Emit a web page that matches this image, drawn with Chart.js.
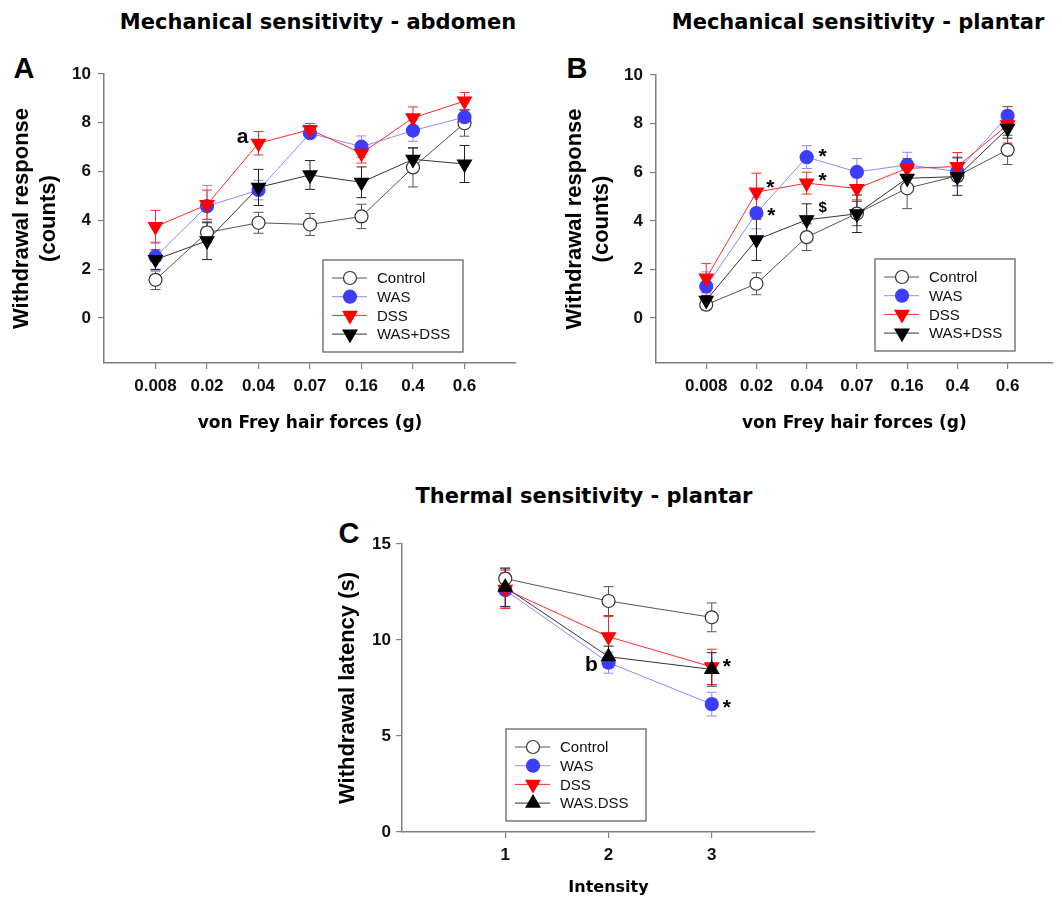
<!DOCTYPE html>
<html>
<head>
<meta charset="utf-8">
<script src="https://cdn.jsdelivr.net/npm/chart.js@4.4.1/dist/chart.umd.min.js"></script>
<style>
  body { margin: 0; background: #fff; width: 1062px; height: 897px; position: relative; overflow: hidden; }
  canvas { position: absolute; }
  .ttl { position: absolute; transform: translate(-50%, -50%); white-space: nowrap;
         font: bold 21px "DejaVu Sans", sans-serif; color: #000; }
  .let { position: absolute; transform: translate(-50%, -50%);
         font: bold 29px "Liberation Sans", Arial, sans-serif; color: #000; }
</style>
</head>
<body>
<div class="ttl" style="left:318px;top:22px">Mechanical sensitivity - abdomen</div>
<div class="ttl" style="left:858px;top:22px">Mechanical sensitivity - plantar</div>
<div class="ttl" style="left:584px;top:496px">Thermal sensitivity - plantar</div>
<div class="let" style="left:24px;top:68px">A</div>
<div class="let" style="left:577px;top:68px">B</div>
<div class="let" style="left:349px;top:533px">C</div>

<canvas id="chartA" width="530" height="440" style="left:0;top:0"></canvas>
<canvas id="chartB" width="522" height="440" style="left:540px;top:0"></canvas>
<canvas id="chartC" width="540" height="437" style="left:300px;top:460px"></canvas>

<script>
const SANS = '"Liberation Sans", Arial, sans-serif';
const HEAVY = '"DejaVu Sans", sans-serif';

// categories
const forces = ["0.008", "0.02", "0.04", "0.07", "0.16", "0.4", "0.6"];
const intensities = ["1", "2", "3"];
const groupsAB = ["Control", "WAS", "DSS", "WAS+DSS"];
const groupsC = ["Control", "WAS", "DSS", "WAS.DSS"];

// A - abdomen, withdrawal counts (mean, sem)
const abdControl = [1.56, 3.5, 3.9, 3.83, 4.16, 6.17, 7.98];
const abdControlErr = [0.4, 0.4, 0.43, 0.45, 0.5, 0.8, 0.53];
const abdWas = [2.51, 4.58, 5.24, 7.57, 7.02, 7.68, 8.23];
const abdWasErr = [0.6, 0.85, 0.4, 0.2, 0.44, 0.44, 0.3];
const abdDss = [3.74, 4.64, 7.16, 7.72, 6.75, 8.2, 8.89];
const abdDssErr = [0.67, 0.6, 0.48, 0.25, 0.4, 0.45, 0.35];
const abdWasDss = [2.39, 3.16, 5.35, 5.86, 5.56, 6.5, 6.31];
const abdWasDssErr = [0.4, 0.77, 0.74, 0.59, 0.63, 0.47, 0.76];

// B - plantar, withdrawal counts
const plaControl = [0.55, 1.41, 3.33, 4.3, 5.34, 5.85, 6.92];
const plaControlErr = [0.2, 0.45, 0.55, 0.5, 0.84, 0.4, 0.6];
const plaWas = [1.3, 4.32, 6.62, 6.01, 6.3, 6.03, 8.32];
const plaWasErr = [0.6, 0.65, 0.47, 0.55, 0.52, 0.6, 0.38];
const plaDss = [1.64, 5.18, 5.55, 5.33, 6.16, 6.23, 7.95];
const plaDssErr = [0.6, 0.78, 0.45, 0.47, 0.4, 0.58, 0.75];
const plaWasDss = [0.73, 3.22, 4.04, 4.29, 5.75, 5.82, 7.8];
const plaWasDssErr = [0.2, 0.85, 0.66, 0.77, 0.4, 0.77, 0.4];

// C - thermal latency (s)
const thControl = [13.2, 12.03, 11.18];
const thControlErr = [0.5, 0.75, 0.75];
const thWas = [12.6, 8.82, 6.66];
const thWasErr = [0.9, 0.55, 0.62];
const thDss = [12.64, 10.17, 8.6];
const thDssErr = [1.0, 1.05, 0.92];
const thWasDss = [12.75, 9.13, 8.47];
const thWasDssErr = [1.0, 0.55, 0.87];

// significance marks: series index, point index, text
const abdNotes = [{ s: 2, i: 2, text: "a", dx: -16, dy: -6 }];
const plaNotes = [
	{ s: 1, i: 1, text: "*", dx: 15, dy: 3 },
	{ s: 2, i: 1, text: "*", dx: 14, dy: -4 },
	{ s: 1, i: 2, text: "*", dx: 16, dy: 0 },
	{ s: 2, i: 2, text: "*", dx: 16, dy: -2 },
	{ s: 3, i: 2, text: "$", dx: 16, dy: -12, size: 15 },
];
const thNotes = [
	{ s: 1, i: 1, text: "b", dx: -17, dy: 3 },
	{ s: 2, i: 2, text: "*", dx: 15, dy: 0 },
	{ s: 1, i: 2, text: "*", dx: 15, dy: 4 },
];

const looks = [
	{ line: "#555555", fill: "#ffffff", stroke: "#333333", shape: "circle", rot: 0, r: 6.5, err: "#555555" },
	{ line: "#8a8aff", fill: "#3d3dff", stroke: "#3d3dff", shape: "circle", rot: 0, r: 6.5, err: "#8a8aff" },
	{ line: "#ff2a2a", fill: "#ff0000", stroke: "#ff0000", shape: "triangle", rot: 180, r: 8, err: "#ff2a2a" },
	{ line: "#333333", fill: "#000000", stroke: "#000000", shape: "triangle", rot: 180, r: 8, err: "#222222" },
];

// error bars, legend box and marks
const panelExtras = {
	id: "panelExtras",
	beforeDatasetsDraw(chart) {
		const { ctx } = chart;
		const xs = chart.scales.x;
		const ys = chart.scales.y;
		chart.data.datasets.forEach((ds) => {
			ctx.save();
			ctx.strokeStyle = ds.errColor;
			ctx.lineWidth = 1;
			ds.data.forEach((pt, i) => {
				const e = ds.errors[i];
				const x = xs.getPixelForValue(pt.x);
				const top = ys.getPixelForValue(pt.y + e);
				const bot = ys.getPixelForValue(pt.y - e);
				ctx.beginPath();
				ctx.moveTo(x, top);
				ctx.lineTo(x, bot);
				ctx.moveTo(x - 5, top);
				ctx.lineTo(x + 5, top);
				ctx.moveTo(x - 5, bot);
				ctx.lineTo(x + 5, bot);
				ctx.stroke();
			});
			ctx.restore();
		});
	},
	afterDatasetsDraw(chart, args, opts) {
		const { ctx } = chart;
		ctx.save();
		ctx.fillStyle = "#000";
		ctx.textAlign = "center";
		ctx.textBaseline = "middle";
		(opts.notes || []).forEach((n) => {
			const el = chart.getDatasetMeta(n.s).data[n.i];
			ctx.font = `bold ${n.size || 21}px ${SANS}`;
			ctx.fillText(n.text, el.x + n.dx, el.y + n.dy);
		});
		ctx.restore();
	},
	afterDraw(chart, args, opts) {
		const { ctx, chartArea } = chart;
		const left = chartArea.left + opts.boxX;
		const top = chartArea.top + opts.boxY;
		ctx.save();
		ctx.fillStyle = "#fff";
		ctx.fillRect(left, top, 140, 92);
		ctx.strokeStyle = "#666";
		ctx.lineWidth = 1.3;
		ctx.strokeRect(left, top, 140, 92);
		chart.data.datasets.forEach((ds, k) => {
			const y = top + 18 + k * 18.7;
			ctx.strokeStyle = ds.borderColor;
			ctx.lineWidth = 1;
			ctx.beginPath();
			ctx.moveTo(left + 9, y);
			ctx.lineTo(left + 44, y);
			ctx.stroke();
			ctx.fillStyle = ds.pointBackgroundColor;
			ctx.strokeStyle = ds.pointBorderColor;
			ctx.lineWidth = ds.pointBorderWidth;
			Chart.helpers.drawPoint(ctx, {
				pointStyle: ds.pointStyle, rotation: ds.pointRotation,
				radius: ds.pointRadius, borderWidth: ds.pointBorderWidth,
			}, left + 27, y);
			ctx.fillStyle = "#111";
			ctx.font = `15px ${SANS}`;
			ctx.textAlign = "left";
			ctx.textBaseline = "middle";
			ctx.fillText(ds.label, left + 54, y + 1);
		});
		ctx.restore();
	},
};

Chart.register(panelExtras);

function makePanel(id, p) {
	const datasets = p.values.map((vals, s) => {
		const lk = looks[s];
		const rot = (s === 3 && p.upLast) ? 0 : lk.rot;
		return {
			label: p.names[s],
			data: vals.map((v, i) => ({ x: i + 1, y: v })),
			errors: p.errors[s],
			errColor: lk.err,
			borderColor: lk.line,
			borderWidth: 1,
			pointStyle: lk.shape,
			pointRotation: rot,
			pointRadius: lk.r,
			pointHoverRadius: lk.r,
			pointBackgroundColor: lk.fill,
			pointBorderColor: lk.stroke,
			pointBorderWidth: 1.2,
			tension: 0,
			order: 4 - s,
		};
	});

	return new Chart(document.getElementById(id), {
		type: "line",
		data: { datasets },
		options: {
			responsive: false,
			animation: false,
			layout: { padding: { top: p.padTop, right: p.padRight, left: 0, bottom: 0 } },
			plugins: {
				legend: { display: false },
				tooltip: { enabled: false },
				panelExtras: { boxX: p.boxX, boxY: p.boxY, notes: p.notes },
			},
			scales: {
				x: {
					type: "linear",
					min: 0,
					max: p.xMax,
					afterBuildTicks: (sc) => { sc.ticks = p.labels.map((_, i) => ({ value: i + 1 })); },
					afterFit: (sc) => { sc.height = p.xHeight; },
					grid: { drawOnChartArea: false, drawTicks: true, tickLength: 6, color: "#808080", lineWidth: 1.2 },
					border: { display: true, color: "#808080", width: 1.5 },
					ticks: {
						callback: (v) => p.labels[v - 1],
						autoSkip: false,
						maxRotation: 0,
						padding: 7,
						color: "#111",
						font: { family: SANS, size: 17, weight: "bold" },
					},
					title: {
						display: true,
						text: p.xTitle,
						color: "#000",
						font: { family: HEAVY, size: p.xTitleSize, weight: "bold", lineHeight: 1.2 },
						padding: { top: 0, bottom: p.xTitlePad },
					},
				},
				y: {
					min: p.yMin,
					max: p.yMax,
					afterBuildTicks: (sc) => { sc.ticks = p.yTicks.map((v) => ({ value: v })); },
					afterFit: (sc) => { sc.width = p.yWidth; },
					grid: { drawOnChartArea: false, drawTicks: true, tickLength: 6, color: "#808080", lineWidth: 1.2 },
					border: { display: true, color: "#808080", width: 1.5 },
					ticks: {
						padding: p.yTickPad,
						color: "#111",
						font: { family: SANS, size: 17, weight: "bold" },
					},
					title: {
						display: true,
						text: p.yTitle,
						color: "#000",
						font: { family: SANS, size: 22, weight: "bold", lineHeight: 1.25 },
						padding: { top: p.yTitlePad, bottom: 0 },
					},
				},
			},
		},
	});
}

makePanel("chartA", {
	labels: forces, names: groupsAB,
	values: [abdControl, abdWas, abdDss, abdWasDss],
	errors: [abdControlErr, abdWasErr, abdDssErr, abdWasDssErr],
	notes: abdNotes,
	xMax: 8, yMin: -1.85, yMax: 10, yTicks: [0, 2, 4, 6, 8, 10],
	padTop: 74, padRight: 14, yWidth: 104, xHeight: 77,
	xTitle: "von Frey hair forces (g)", xTitleSize: 17, xTitlePad: 6,
	yTitle: ["Withdrawal response", "(counts)"], yTitlePad: 8, yTickPad: 7,
	boxX: 219, boxY: 186,
});

makePanel("chartB", {
	labels: forces, names: groupsAB,
	values: [plaControl, plaWas, plaDss, plaWasDss],
	errors: [plaControlErr, plaWasErr, plaDssErr, plaWasDssErr],
	notes: plaNotes,
	xMax: 7.9, yMin: -1.85, yMax: 10, yTicks: [0, 2, 4, 6, 8, 10],
	padTop: 75, padRight: 0, yWidth: 116, xHeight: 77,
	xTitle: "von Frey hair forces (g)", xTitleSize: 17, xTitlePad: 6,
	yTitle: ["Withdrawal response", "(counts)"], yTitlePad: 21, yTickPad: 7,
	boxX: 219, boxY: 184,
});

makePanel("chartC", {
	labels: intensities, names: groupsC, upLast: true,
	values: [thControl, thWas, thDss, thWasDss],
	errors: [thControlErr, thWasErr, thDssErr, thWasDssErr],
	notes: thNotes,
	xMax: 4, yMin: 0, yMax: 15, yTicks: [0, 5, 10, 15],
	padTop: 84, padRight: 25, yWidth: 102, xHeight: 65,
	xTitle: "Intensity", xTitleSize: 16, xTitlePad: 0,
	yTitle: "Withdrawal latency (s)", yTitlePad: 34, yTickPad: 5,
	boxX: 104, boxY: 185,
});
</script>
</body>
</html>
